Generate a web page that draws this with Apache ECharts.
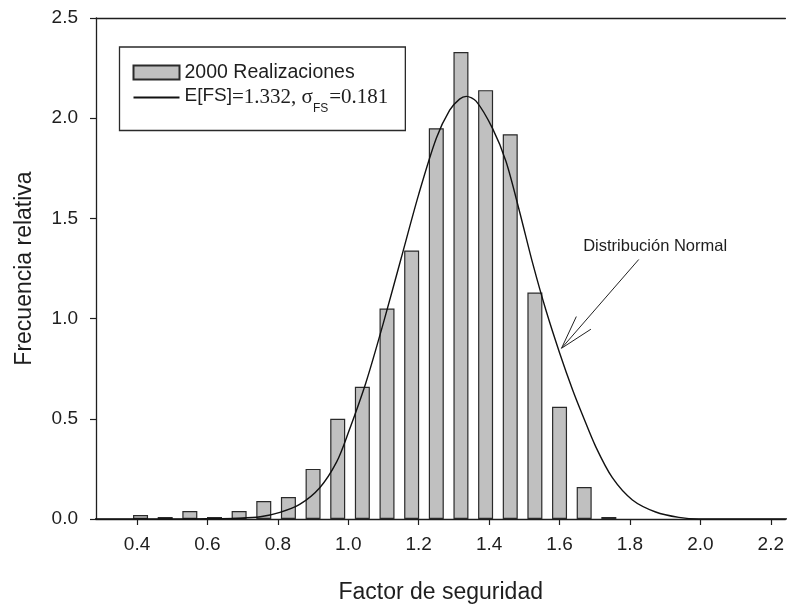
<!DOCTYPE html>
<html>
<head>
<meta charset="utf-8">
<script src="https://cdn.jsdelivr.net/npm/echarts@6/dist/echarts.min.js"></script>
<style>
html,body{margin:0;padding:0;background:#fff;}
#chart{width:787px;height:609px;}
</style>
</head>
<body>
<div id="chart"></div>
<script>
// Histogram bin centres and relative frequencies
const binCenters = [0.41, 0.48, 0.55, 0.62, 0.69, 0.76, 0.83, 0.90, 0.97, 1.04,
                    1.11, 1.18, 1.25, 1.32, 1.39, 1.46, 1.53, 1.60, 1.67, 1.74];
const relFreq    = [0.02, 0.01, 0.04, 0.01, 0.04, 0.09, 0.11, 0.25, 0.50, 0.66,
                    1.05, 1.34, 1.95, 2.33, 2.14, 1.92, 1.13, 0.56, 0.16, 0.01];
// Fitted normal curve
const normalX = [0.28, 0.50, 0.60, 0.693, 0.75, 0.806, 0.863, 0.919, 0.967, 1.00,
                 1.05, 1.10, 1.15, 1.20, 1.25, 1.288, 1.316, 1.335, 1.363, 1.41,
                 1.448, 1.486, 1.524, 1.561, 1.60, 1.637, 1.665, 1.703, 1.75, 1.807,
                 1.873, 1.939, 1.996, 2.10, 2.25];
const normalY = [0, 0, 0.001, 0.004, 0.011, 0.033, 0.074, 0.156, 0.285, 0.43,
                 0.68, 0.98, 1.30, 1.62, 1.90, 2.04, 2.095, 2.109, 2.085, 1.948,
                 1.784, 1.537, 1.274, 1.044, 0.83, 0.645, 0.52, 0.36, 0.206, 0.095,
                 0.035, 0.008, 0, 0, 0];
const xTicks = [0.4, 0.6, 0.8, 1.0, 1.2, 1.4, 1.6, 1.8, 2.0, 2.2];
const xRange = [0.2835, 2.2415];
const annotTip = [1.6057, 0.852];
const annotTail = [1.825, 1.295];
const annotText = 'Distribución Normal';
const annotTextPos = [1.667, 1.36];

const SANS = 'Liberation Sans, Arial, sans-serif';
const SERIF = 'Liberation Serif, Times New Roman, serif';
const INK = '#1e1e1e';

const chart = echarts.init(document.getElementById('chart'), null, {renderer: 'canvas'});

const option = {
  animation: false,
  backgroundColor: '#fff',
  grid: {left: 96, right: 0, top: 18, bottom: 84},
  legend: {
    orient: 'vertical',
    left: 119.5,
    top: 47,
    padding: [14.5, 17, 5, 13],
    itemGap: 3,
    itemWidth: 46,
    itemHeight: 14,
    itemTextGap: 12,
    borderColor: '#2a2a2a',
    borderWidth: 1.3,
    selectedMode: false,
    data: [
      {name: '2000 Realizaciones', icon: 'rect'},
      {name: 'normal', itemStyle: {opacity: 0}}
    ],
    formatter: function (name) {
      if (name === 'normal') {
        return '{a|E[FS]}{b|=1.332, σ}{s|FS}{b|=0.181}';
      }
      return name;
    },
    textStyle: {
      fontFamily: SANS, fontSize: 19.5, color: INK, lineHeight: 22,
      rich: {
        a: {fontFamily: SANS, fontSize: 19, color: INK, lineHeight: 22, verticalAlign: 'top'},
        b: {fontFamily: SERIF, fontSize: 21, color: INK, lineHeight: 22, verticalAlign: 'top'},
        s: {fontFamily: SANS, fontSize: 12, color: INK, lineHeight: 12, verticalAlign: 'top', padding: [16, 1, 11, 0]}
      }
    }
  },
  xAxis: [{
    type: 'value',
    min: xRange[0],
    max: xRange[1],
    position: 'bottom',
    name: 'Factor de seguridad',
    nameLocation: 'middle',
    nameGap: 62,
    nameTextStyle: {fontFamily: SANS, fontSize: 23, color: INK},
    splitLine: {show: false},
    axisLine: {show: true, onZero: false, lineStyle: {color: INK, width: 1.3}},
    axisTick: {show: true, inside: false, length: 6, customValues: xTicks, lineStyle: {color: INK, width: 1.2}},
    axisLabel: {
      customValues: xTicks,
      margin: 16,
      fontFamily: SANS, fontSize: 19, color: INK,
      formatter: function (v) { return Number(v).toFixed(1); }
    }
  }, {
    type: 'value',
    min: xRange[0],
    max: xRange[1],
    position: 'top',
    splitLine: {show: false},
    axisLine: {show: true, onZero: false, lineStyle: {color: INK, width: 1.3}},
    axisTick: {show: false},
    axisLabel: {show: false}
  }],
  yAxis: {
    type: 'value',
    min: 0,
    max: 2.5,
    interval: 0.5,
    name: 'Frecuencia relativa',
    nameLocation: 'middle',
    nameGap: 60,
    nameTextStyle: {fontFamily: SANS, fontSize: 23, color: INK},
    splitLine: {show: false},
    axisLine: {show: true, onZero: false, lineStyle: {color: INK, width: 1.3}},
    axisTick: {show: true, inside: false, length: 6, lineStyle: {color: INK, width: 1.2}},
    axisLabel: {
      margin: 18,
      fontFamily: SANS, fontSize: 19, color: INK,
      formatter: function (v) { return Number(v).toFixed(1); }
    }
  },
  series: [{
    name: '2000 Realizaciones',
    type: 'bar',
    xAxisIndex: 0,
    barWidth: 15,
    itemStyle: {color: '#c0c0c0', borderColor: '#2a2a2a', borderWidth: 1.2},
    data: binCenters.map((x, i) => [x, relFreq[i]]),
    z: 2
  }, {
    name: 'normal',
    type: 'line',
    xAxisIndex: 0,
    smooth: 0.3,
    symbol: 'none',
    showSymbol: false,
    lineStyle: {color: '#111', width: 1.4},
    itemStyle: {color: '#111'},
    data: normalX.map((x, i) => [x, normalY[i]]),
    z: 3
  }]
};

chart.setOption(option);

// Annotation: text + open arrow, placed in data coordinates
const tip = chart.convertToPixel({xAxisIndex: 0, yAxisIndex: 0}, annotTip);
const tail = chart.convertToPixel({xAxisIndex: 0, yAxisIndex: 0}, annotTail);
const tpos = chart.convertToPixel({xAxisIndex: 0, yAxisIndex: 0}, annotTextPos);
const ang = Math.atan2(tail[1] - tip[1], tail[0] - tip[0]);
const headLen = 35, headAng = 16 * Math.PI / 180;
const h1 = [tip[0] + headLen * Math.cos(ang - headAng), tip[1] + headLen * Math.sin(ang - headAng)];
const h2 = [tip[0] + headLen * Math.cos(ang + headAng), tip[1] + headLen * Math.sin(ang + headAng)];

chart.setOption({
  graphic: [
    {type: 'line', shape: {x1: tail[0], y1: tail[1], x2: tip[0], y2: tip[1]}, style: {stroke: '#222', lineWidth: 1}, z: 10},
    {type: 'line', shape: {x1: tip[0], y1: tip[1], x2: h1[0], y2: h1[1]}, style: {stroke: '#222', lineWidth: 1}, z: 10},
    {type: 'line', shape: {x1: tip[0], y1: tip[1], x2: h2[0], y2: h2[1]}, style: {stroke: '#222', lineWidth: 1}, z: 10},
    {type: 'text', x: tpos[0], y: tpos[1], style: {text: annotText, font: '16.5px ' + SANS, fill: INK, verticalAlign: 'middle'}, z: 10}
  ]
});
</script>
</body>
</html>
